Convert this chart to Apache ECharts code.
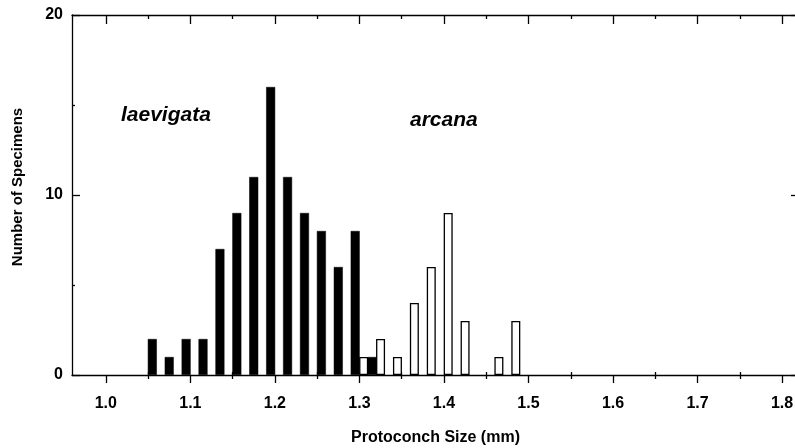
<!DOCTYPE html>
<html>
<head>
<meta charset="utf-8">
<script src="https://cdn.jsdelivr.net/npm/echarts@6/dist/echarts.min.js"></script>
<style>html,body{margin:0;padding:0;background:#fff}#c{width:795px;height:448px}</style>
</head>
<body>
<div id="c"></div>
<script>
// ---- data ----
const laevigataSize  = [1.055, 1.075, 1.095, 1.115, 1.135, 1.155, 1.175, 1.195, 1.215, 1.235, 1.255, 1.275, 1.295, 1.315];
const laevigataCount = [2, 1, 2, 2, 7, 9, 11, 16, 11, 9, 8, 6, 8, 1];
const arcanaSize  = [1.305, 1.325, 1.345, 1.365, 1.385, 1.405, 1.425, 1.465, 1.485];
const arcanaCount = [1, 2, 1, 4, 6, 9, 3, 1, 3];
const xMajorTicks = [1.0, 1.1, 1.2, 1.3, 1.4, 1.5, 1.6, 1.7, 1.8];
const xMinorTicks = [1.05, 1.15, 1.25, 1.35, 1.45, 1.55, 1.65, 1.75];
const xMin = 0.96, xMax = 1.82;
const yMin = 0, yMax = 20, yStep = 10;

const FONT = '"Liberation Sans", Arial, Helvetica, sans-serif';
const chart = echarts.init(document.getElementById('c'), null, {renderer: 'canvas'});

function xAx(extra) {
  return Object.assign({
    type: 'value', min: xMin, max: xMax, gridIndex: 0,
    axisLine: {show: false, onZero: false},
    axisTick: {show: false},
    axisLabel: {show: false},
    splitLine: {show: false}
  }, extra);
}
const lineStyle = {color: '#000', width: 1.3};

const option = {
  animation: false,
  backgroundColor: '#fff',
  grid: {left: 72, top: 15, width: 727, height: 360, containLabel: false, outerBoundsMode: 'none'},
  xAxis: [
    xAx({
      position: 'bottom',
      axisLine: {show: true, onZero: false, lineStyle},
      axisTick: {show: true, inside: false, length: 8, customValues: xMajorTicks, lineStyle},
      axisLabel: {show: true, customValues: xMajorTicks, margin: 21,
        formatter: v => Number(v).toFixed(1),
        fontFamily: FONT, fontWeight: 'bold', fontSize: 16, color: '#000'},
      name: 'Protoconch Size (mm)', nameLocation: 'middle', nameGap: 55,
      nameTextStyle: {fontFamily: FONT, fontWeight: 'bold', fontSize: 16, color: '#000'}
    }),
    xAx({position: 'bottom',
      axisTick: {show: true, inside: false, length: 4, customValues: xMinorTicks, lineStyle}}),
    xAx({position: 'bottom',
      axisTick: {show: true, inside: true, length: 3, customValues: xMinorTicks, lineStyle}}),
    xAx({position: 'top',
      axisLine: {show: true, onZero: false, lineStyle},
      axisTick: {show: true, inside: true, length: 9, customValues: xMajorTicks, lineStyle}}),
    xAx({position: 'top',
      axisTick: {show: true, inside: true, length: 4, customValues: xMinorTicks, lineStyle}})
  ],
  yAxis: [
    {
      type: 'value', position: 'left', min: yMin, max: yMax, interval: yStep,
      axisLine: {show: true, onZero: false, lineStyle},
      axisTick: {show: true, inside: true, length: 8, lineStyle},
      minorTick: {show: true, splitNumber: 2, length: 3, lineStyle},
      axisLabel: {show: true, margin: 9, fontFamily: FONT, fontWeight: 'bold', fontSize: 16, color: '#000'},
      splitLine: {show: false}
    },
    {
      type: 'value', position: 'right', min: yMin, max: yMax, interval: yStep,
      axisLine: {show: true, onZero: false, lineStyle},
      axisTick: {show: true, inside: true, length: 8, lineStyle},
      minorTick: {show: true, splitNumber: 2, length: 3, lineStyle},
      axisLabel: {show: false},
      splitLine: {show: false}
    }
  ],
  series: [
    {
      name: 'arcana', type: 'bar', xAxisIndex: 0, yAxisIndex: 0,
      barWidth: 9, barGap: '-100%',
      itemStyle: {color: '#fff', borderColor: '#000', borderWidth: 1.3},
      data: arcanaSize.map((s, i) => [s, arcanaCount[i]])
    },
    {
      name: 'laevigata', type: 'bar', xAxisIndex: 0, yAxisIndex: 0,
      barWidth: 9, barGap: '-100%',
      itemStyle: {color: '#000', borderColor: '#000', borderWidth: 0.5},
      data: laevigataSize.map((s, i) => [s, laevigataCount[i]])
    }
  ],
  graphic: [
    {type: 'text', x: 18, y: 187, rotation: Math.PI / 2,
      style: {text: 'Number of Specimens', fontFamily: FONT, fontWeight: 'bold', fontSize: 15,
        fill: '#000', align: 'center', verticalAlign: 'middle'}},
    {type: 'text', x: 121, y: 115,
      style: {text: 'laevigata', fontFamily: FONT, fontStyle: 'italic', fontWeight: 'bold', fontSize: 21,
        fill: '#000', align: 'left', verticalAlign: 'middle'}},
    {type: 'text', x: 410, y: 120,
      style: {text: 'arcana', fontFamily: FONT, fontStyle: 'italic', fontWeight: 'bold', fontSize: 21,
        fill: '#000', align: 'left', verticalAlign: 'middle'}}
  ]
};
chart.setOption(option);
</script>
</body>
</html>
